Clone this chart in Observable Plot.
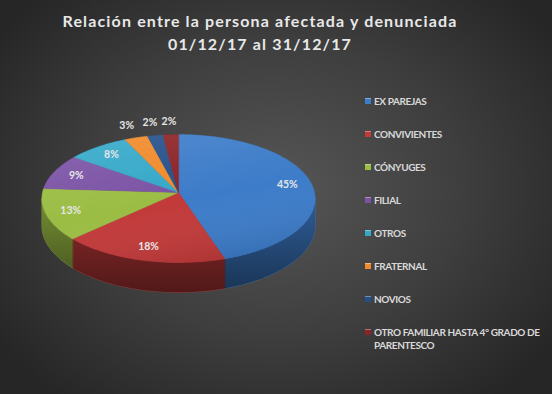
<!DOCTYPE html>
<html><head><meta charset="utf-8">
<script src="https://cdn.jsdelivr.net/npm/d3@7"></script>
<script src="https://cdn.jsdelivr.net/npm/@observablehq/plot@0.6"></script>
<style>
html,body{margin:0;padding:0;background:#2a2a2a;}
#wrap{position:relative;width:552px;height:394px;overflow:hidden;background:radial-gradient(ellipse 62% 68% at 50% 48%, #565656 0%, #3e3e3e 55%, #262626 100%);font-family:Lato,"Open Sans",sans-serif;}
#title{position:absolute;left:0;top:9px;width:520px;text-align:center;color:#e8e8e8;font-weight:bold;font-size:16px;letter-spacing:1.15px;line-height:23px;}
#chart{position:absolute;left:0;top:0;}
#legend{position:absolute;left:365px;top:0;}
.item{position:absolute;left:0;white-space:nowrap;color:#d9d9d9;font-weight:bold;font-size:10px;letter-spacing:-0.4px;line-height:13px;}
.sw{display:inline-block;width:6px;height:6px;margin-right:3px;vertical-align:1px;box-shadow:inset 0 1px 0 rgba(255,255,255,0.35);}
.cont{padding-left:9px;}
</style></head><body>
<div id="wrap"><div id="chart"></div><div id="title">Relación entre la persona afectada y denunciada<br>01/12/17 al 31/12/17</div><div id="legend"></div></div>
<script>
const categories = ["EX PAREJAS","CONVIVIENTES","CÓNYUGES","FILIAL","OTROS","FRATERNAL","NOVIOS","OTRO FAMILIAR HASTA 4° GRADO DE PARENTESCO"];
const values = [45,18,13,9,8,3,2,2];
const colors = ["#3d7cc9","#c23a3a","#9bbd44","#7b53a5","#35a8c9","#f08a2a","#24508a","#8c2226"];
const labels = values.map(v => v + "%");

// geometry of the tilted disc
const W = 552, H = 394, cx = 178, cy = 192, B = 136, A = 63.4, k = 0.094, D = 27;
function P(theta, r, z) {
  const u = r * Math.sin(theta), v = -r * Math.cos(theta);
  const s = 1 / (1 - k * v);
  return [cx + B * u * s, cy + A * v * s + z * D * s];
}
function arcPts(a0, a1, r, z) {
  const n = Math.max(2, Math.ceil((a1 - a0) / (Math.PI / 180)));
  return d3.range(n + 1).map(i => P(a0 + (a1 - a0) * i / n, r, z));
}
const arcs = d3.pie().sort(null).value(d => d.value)(categories.map((c, i) => ({cat: c, value: values[i], label: labels[i]})));
const ts = Math.acos(-k), te = 2 * Math.PI - ts;

const tops = arcs.map(a => {
  const ring = [[cx, cy], ...arcPts(a.startAngle, a.endAngle, 1, 0), [cx, cy]];
  return {type: "Feature", properties: {cat: a.data.cat}, geometry: {type: "Polygon", coordinates: [ring]}};
});
const walls = arcs.filter(a => a.endAngle > ts && a.startAngle < te).map(a => {
  const s0 = Math.max(a.startAngle, ts), s1 = Math.min(a.endAngle, te);
  const up = arcPts(s0, s1, 1, 0), down = arcPts(s0, s1, 1, 1).reverse();
  const ring = [...up, ...down, up[0]];
  return {type: "Feature", properties: {cat: a.data.cat}, geometry: {type: "Polygon", coordinates: [ring]}};
});
const wallAll = (() => {
  const up = arcPts(ts, te, 1, 0), down = arcPts(ts, te, 1, 1).reverse();
  return {type: "Feature", properties: {}, geometry: {type: "Polygon", coordinates: [[...up, ...down, up[0]]]}};
})();
const topAll = (() => {
  const ring = arcPts(0, 2 * Math.PI, 1, 0);
  return {type: "Feature", properties: {}, geometry: {type: "Polygon", coordinates: [ring]}};
})();
const labelData = arcs.map(a => {
  const m = (a.startAngle + a.endAngle) / 2;
  const inside = a.data.value >= 5;
  const [x, y] = P(m, inside ? 0.82 : 1.25, 0);
  return {x, y, label: a.data.label};
});

const svg = Plot.plot({
  width: W, height: H,
  margin: 0,
  projection: d3.geoIdentity(),
  style: {background: "transparent", overflow: "visible"},
  color: {domain: categories, range: colors},
  marks: [
    Plot.geo(walls, {fill: d => d.properties.cat, stroke: d => d.properties.cat, strokeWidth: 0.5}),
    Plot.geo([wallAll], {fill: "url(#wallShade)"}),
    Plot.geo(tops, {fill: d => d.properties.cat, stroke: d => d.properties.cat, strokeWidth: 0.5}),
    Plot.geo([topAll], {fill: "url(#topShade)"}),
    Plot.text(labelData, {x: "x", y: "y", text: "label", fill: "#e6e6e6", fontSize: 10.5, fontWeight: "bold", fontFamily: "Lato, 'Open Sans', sans-serif"})
  ]
});
const defs = d3.select(svg).insert("defs", ":first-child");
const wg = defs.append("linearGradient").attr("id", "wallShade").attr("x1", 0).attr("y1", 0).attr("x2", 0).attr("y2", 1);
wg.append("stop").attr("offset", "0%").attr("stop-color", "#000").attr("stop-opacity", 0.25);
wg.append("stop").attr("offset", "100%").attr("stop-color", "#000").attr("stop-opacity", 0.58);
const tg = defs.append("linearGradient").attr("id", "topShade").attr("x1", 0.2).attr("y1", 0).attr("x2", 0.6).attr("y2", 1);
tg.append("stop").attr("offset", "0%").attr("stop-color", "#fff").attr("stop-opacity", 0.1);
tg.append("stop").attr("offset", "55%").attr("stop-color", "#fff").attr("stop-opacity", 0);
tg.append("stop").attr("offset", "100%").attr("stop-color", "#000").attr("stop-opacity", 0.1);
document.getElementById("chart").appendChild(svg);

const legend = d3.select("#legend");
categories.forEach((c, i) => {
  const row = legend.append("div").attr("class", "item").style("top", (101 + 33 * i - 6.5) + "px");
  row.append("span").attr("class", "sw").style("background", colors[i]);
  if (c.length > 32) {
    row.append("span").text("OTRO FAMILIAR HASTA 4° GRADO DE");
    row.append("br");
    row.append("span").attr("class", "cont").text("PARENTESCO");
  } else {
    row.append("span").text(c);
  }
});
</script>
</body></html>
